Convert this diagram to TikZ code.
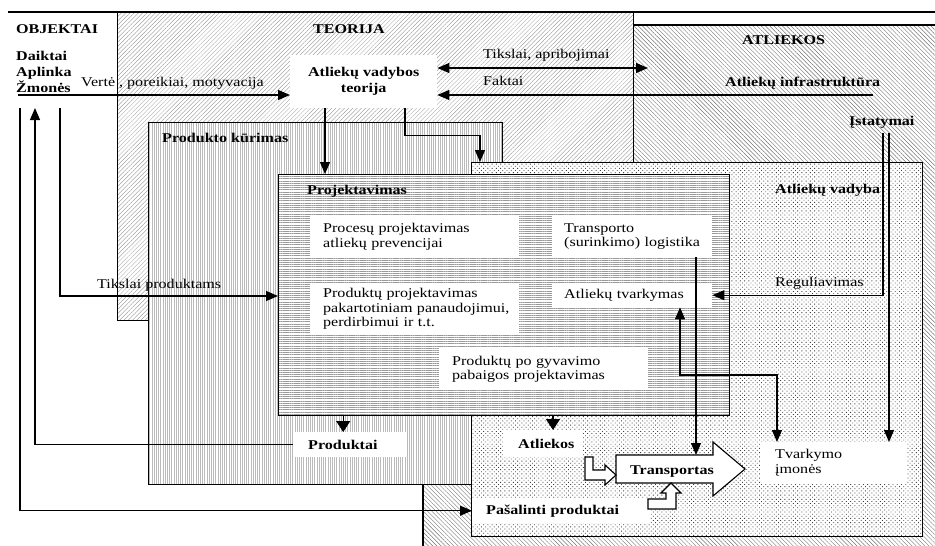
\documentclass[tikz,border=0pt]{standalone}
\usepackage{fontspec}
\setmainfont{Liberation Serif}[FakeStretch=1.2]
\usetikzlibrary{arrows.meta,patterns.meta}
\begin{document}
\begin{tikzpicture}[x=1pt,y=-1pt,
  every node/.style={font=\fontsize{13.4}{14.5}\selectfont, inner sep=0pt},
  lbl/.style={anchor=base west},
  blbl/.style={anchor=base west, font=\fontsize{13.4}{14.5}\selectfont\bfseries},
  ln/.style={line width=1.2pt},
  arr/.style={line width=1.2pt, -{Triangle[length=12pt,width=10pt]}},
  darr/.style={line width=1.2pt, {Triangle[length=12pt,width=10pt]}-{Triangle[length=12pt,width=10pt]}},
  sarr/.style={line width=1.2pt, -{Triangle[length=11pt,width=14pt]}},
  bigbox/.style={draw, line width=1.2pt, anchor=north west, preaction={fill=white}},
  wbox/.style={fill=white, anchor=north west, align=left},
  pteo/.style={pattern={Lines[angle=45,distance=3pt,line width=0.3pt]}, pattern color=black!45},
  patl/.style={pattern={Lines[angle=-45,distance=3pt,line width=0.4pt]}, pattern color=black!55},
  pprod/.style={pattern={Lines[angle=90,distance=2.2pt,line width=0.4pt]}, pattern color=black!27},
  pproj/.style={pattern={Lines[angle=0,distance=2.2pt,line width=0.45pt]}, pattern color=black!40},
  pvad/.style={pattern={Dots[distance=3pt,radius=0.6pt,angle=45]}, pattern color=black!75},
  blockarr/.style={draw, line width=1.1pt, fill=white, line join=miter}
]
\useasboundingbox (0,0) rectangle (935,546);

% ATLIEKOS background area
\fill[patl] (632,25) -- (935,25) -- (935,546) -- (423,546) -- (423,160) -- (632,160) -- cycle;
\draw[ln] (632,25) -- (935,25);
\draw[ln] (423,546) -- (423,484);
\draw[ln] (8,12) -- (935,12);

% big regions
\node[bigbox, pteo, minimum width=516pt, minimum height=308pt] (teorija) at (117,12) {};
\node[bigbox, pprod, minimum width=354pt, minimum height=362pt] (produkto) at (148,122) {};
\node[bigbox, pvad, minimum width=451pt, minimum height=374pt] (vadyba) at (471,162) {};
\node[bigbox, pproj, minimum width=451pt, minimum height=241pt] (projekt) at (278,174) {};

% titles
\node[blbl] (objektai) at (16,33) {OBJEKTAI};
\node[blbl] (daiktai) at (16,60) {Daiktai};
\node[blbl] (aplinka) at (16,76) {Aplinka};
\node[blbl] (zmones) at (16,92) {Žmonės};
\node[lbl] (verte) at (81,86) {Vertė , poreikiai, motyvacija};
\node[blbl] (teotitle) at (313,33) {TEORIJA};
\node[lbl] (tikslai) at (483,58) {Tikslai, apribojimai};
\node[lbl] (faktai) at (483,85) {Faktai};
\node[blbl] (atltitle) at (742,45) {ATLIEKOS};
\node[blbl] (infra) at (725,86) {Atliekų infrastruktūra};
\node[blbl] (istat) at (849,125) {Įstatymai};
\node[blbl] (vadtitle) at (775,193) {Atliekų vadyba};
\node[lbl] (regul) at (775,286) {Reguliavimas};
\node[blbl] (prodtitle) at (162,142) {Produkto kūrimas};
\node[blbl] (projtitle) at (307,194) {Projektavimas};
\node[lbl] (tiksprod) at (97,288) {Tikslai produktams};

% white boxes
\node[fill=white, anchor=north west, align=center, minimum width=147pt, minimum height=53pt, font=\fontsize{13.4}{16}\selectfont\bfseries] (avt) at (290,55) {Atliekų vadybos\\teorija};
\node[wbox, text width=183pt, inner xsep=13pt, minimum height=41pt] (proces) at (310,216) {\mbox{Procesų projektavimas}\\\mbox{atliekų prevencijai}};
\node[wbox, text width=136pt, inner xsep=12pt, minimum height=41pt] (tlog) at (552,216) {\mbox{Transporto}\\\mbox{(surinkimo) logistika}};
\node[wbox, text width=183pt, inner xsep=13pt, minimum height=52pt] (prodproj) at (310,283) {\mbox{Produktų projektavimas}\\\mbox{pakartotiniam panaudojimui,}\\\mbox{perdirbimui ir t.t.}};
\node[wbox, text width=136pt, inner xsep=12pt, minimum height=24pt] (tvark) at (552,283) {\mbox{Atliekų tvarkymas}};
\node[wbox, text width=183pt, inner xsep=13pt, minimum height=42pt] (gyv) at (439,348) {\mbox{Produktų po gyvavimo}\\\mbox{pabaigos projektavimas}};
\node[wbox, text width=84pt, inner xsep=15pt, minimum height=25pt, font=\fontsize{13.4}{14.5}\selectfont\bfseries] (produktai) at (293,432) {Produktai};
\node[wbox, text width=50pt, inner xsep=15pt, minimum height=27pt, font=\fontsize{13.4}{14.5}\selectfont\bfseries] (atliekos) at (503,430) {Atliekos};
\node[wbox, text width=150pt, inner xsep=14pt, minimum height=25pt, font=\fontsize{13.4}{14.5}\selectfont\bfseries] (pasal) at (472,498) {\mbox{Pašalinti produktai}};
\node[wbox, text width=117pt, inner xsep=15pt, minimum height=41pt] (tvim) at (760,442) {Tvarkymo\\įmonės};

% Transportas block arrow
\draw[blockarr] (616,455) -- (713,455) -- (713,442) -- (745,469) -- (713,496) -- (713,483) -- (616,483) -- cycle;
\node[anchor=base west, font=\fontsize{13.4}{14.5}\selectfont\bfseries] (transp) at (630,474) {Transportas};
\coordinate (trtop) at (696,455);
% small bent arrows
\draw[blockarr] (585,457) -- (593,457) -- (593,470) -- (605,470) -- (605,465) -- (616,475) -- (605,485) -- (605,480) -- (585,480) -- cycle;
\draw[blockarr] (648,499) -- (666,499) -- (666,493) -- (661,493) -- (671,483) -- (681,493) -- (676,493) -- (676,509) -- (648,509) -- cycle;

% connectors
\coordinate (objsrc1) at (18,95);
\draw[arr] (objsrc1) -- (avt.west |- objsrc1);
\coordinate (atlend) at (648,68);
\draw[darr] (avt.east |- atlend) -- (atlend);
\coordinate (faktsrc) at (873,95);
\draw[arr] (faktsrc) -- (avt.east |- faktsrc);
\draw[arr] ([xshift=35pt]avt.south west) -- ([xshift=35pt]avt.south west |- projekt.north);
\draw[arr] ([xshift=115pt]avt.south west) -- ++(0,27) -| ([xshift=9pt]vadyba.north west);
\coordinate (tpsrc) at (60,108);
\draw[arr] (tpsrc) |- (projekt.west |- 0,296);
\coordinate (prodtgt) at (35,108);
\draw[arr] (produktai.west) -| (prodtgt);
\coordinate (pasrc) at (20,108);
\draw[arr] (pasrc) |- (pasal.west);
\draw[sarr] ([xshift=-7pt]projekt.south -| produktai.north) -- ([xshift=-7pt]produktai.north);
\draw[sarr] (projekt.south -| 553,0) -- (atliekos.north -| 553,0);
\draw[arr] (tlog.south -| trtop) -- (trtop);
\draw[darr] (tvark.south -| 680,0) -- (680,375) -| (tvim.north -| 777,0);
\coordinate (ist1) at (883,133);
\coordinate (ist2) at (889,133);
\draw[arr] (ist1) |- (tvark.east);
\draw[arr] (ist2) -- (tvim.north -| ist2);
\end{tikzpicture}
\end{document}
